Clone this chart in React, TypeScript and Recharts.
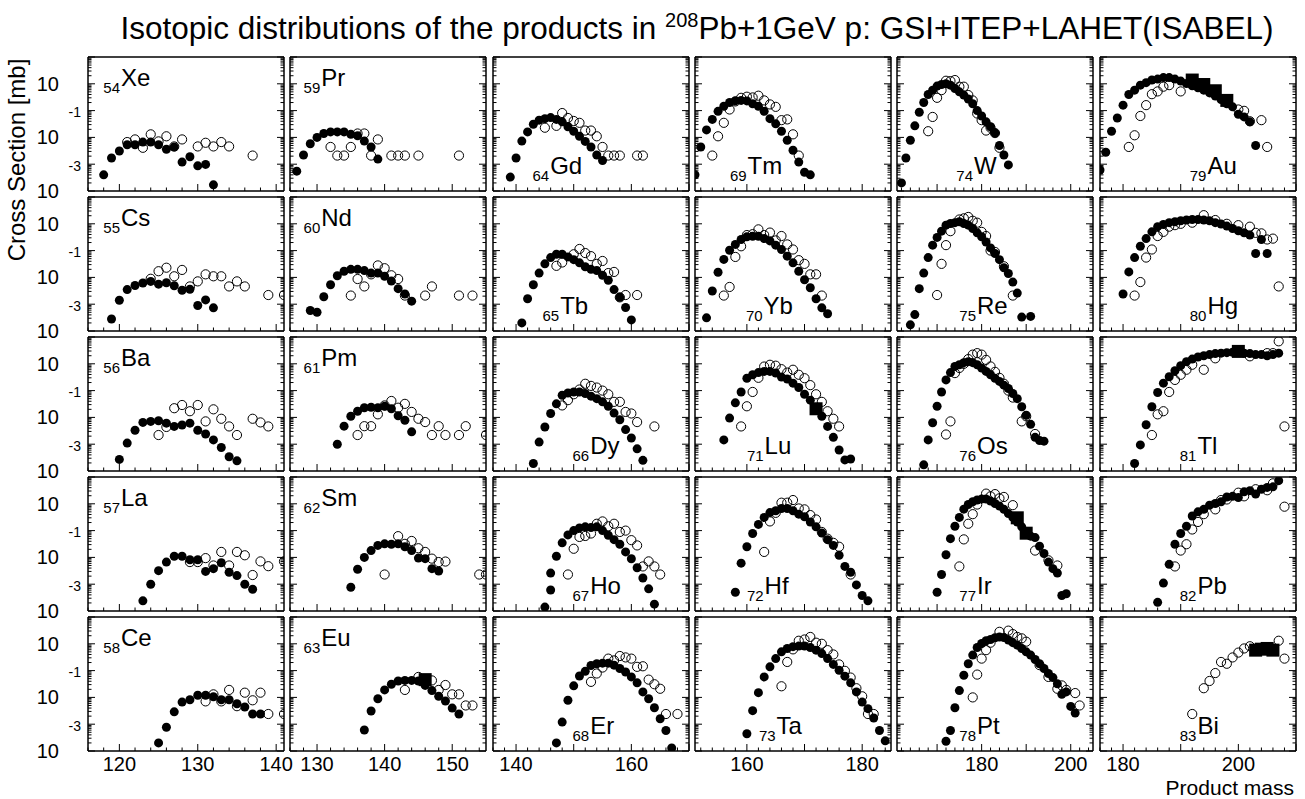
import React from 'react';
import { ScatterChart, Scatter, XAxis, YAxis } from 'recharts';

type Pt = [number, number];

// [mass, cross section mb]; filled = GSI, open = LAHET, squares = ITEP
const xeFilled: Pt[] = [[118,0.004],[119,0.017],[120,0.031],[121,0.053],[122,0.053],[123,0.067],[124,0.067],[125,0.053],[126,0.036],[127,0.044],[128,0.012],[129,0.019],[130,0.0087],[131,0.0098],[132,0.0017]];
const xeOpen: Pt[] = [[121,0.067],[122,0.084],[123,0.041],[124,0.13],[125,0.071],[126,0.11],[127,0.046],[128,0.084],[130,0.046],[131,0.063],[132,0.046],[133,0.067],[134,0.046],[137,0.021]];
const csFilled: Pt[] = [[119,0.0028],[120,0.014],[121,0.035],[122,0.05],[123,0.062],[124,0.071],[125,0.056],[126,0.063],[127,0.049],[128,0.033],[129,0.036],[130,0.0089],[131,0.0145],[132,0.0073]];
const csOpen: Pt[] = [[124,0.089],[125,0.17],[126,0.23],[127,0.11],[128,0.19],[129,0.046],[130,0.071],[131,0.13],[132,0.11],[133,0.11],[134,0.046],[135,0.071],[136,0.046],[139,0.022],[141,0.022]];
const baFilled: Pt[] = [[120,0.0027],[121,0.011],[122,0.033],[123,0.065],[124,0.071],[125,0.075],[126,0.061],[127,0.046],[128,0.052],[129,0.061],[130,0.033],[131,0.024],[132,0.0145],[133,0.0075],[134,0.0034],[135,0.0024]];
const baOpen: Pt[] = [[125,0.022],[126,0.044],[127,0.22],[128,0.29],[129,0.17],[130,0.29],[131,0.071],[132,0.2],[133,0.089],[134,0.046],[135,0.022],[137,0.089],[138,0.065],[139,0.046]];
const laFilled: Pt[] = [[123,0.0024],[124,0.01],[125,0.032],[126,0.067],[127,0.11],[128,0.11],[129,0.082],[130,0.082],[131,0.03],[132,0.038],[133,0.063],[134,0.028],[135,0.021],[136,0.01],[137,0.0065]];
const laOpen: Pt[] = [[129,0.067],[130,0.067],[131,0.094],[132,0.05],[133,0.16],[134,0.05],[135,0.16],[136,0.12],[137,0.022],[138,0.071],[139,0.047],[141,0.071]];
const ceFilled: Pt[] = [[125,0.002],[126,0.0077],[127,0.029],[128,0.067],[129,0.082],[130,0.12],[131,0.12],[132,0.106],[133,0.082],[134,0.082],[135,0.058],[136,0.044],[137,0.024],[138,0.024]];
const ceOpen: Pt[] = [[131,0.071],[132,0.13],[133,0.071],[134,0.19],[135,0.047],[136,0.15],[137,0.078],[138,0.15],[139,0.024],[141,0.024]];

const prFilled: Pt[] = [[127,0.0055],[128,0.022],[129,0.058],[130,0.1],[131,0.14],[132,0.16],[133,0.16],[134,0.16],[135,0.13],[136,0.115],[137,0.073],[138,0.044],[139,0.0155]];
const prOpen: Pt[] = [[132,0.044],[133,0.021],[134,0.021],[135,0.044],[136,0.14],[137,0.14],[138,0.021],[139,0.084],[141,0.021],[142,0.021],[143,0.021],[145,0.021],[151,0.021]];
const ndFilled: Pt[] = [[129,0.0058],[130,0.005],[131,0.019],[132,0.053],[133,0.115],[134,0.17],[135,0.2],[136,0.2],[137,0.18],[138,0.145],[139,0.145],[140,0.11],[141,0.073],[142,0.038],[143,0.024],[144,0.013]];
const ndOpen: Pt[] = [[135,0.021],[136,0.087],[137,0.046],[138,0.13],[139,0.28],[140,0.22],[141,0.12],[142,0.087],[143,0.021],[146,0.021],[147,0.046],[151,0.021],[153,0.021]];
const pmFilled: Pt[] = [[133,0.01],[134,0.047],[135,0.11],[136,0.17],[137,0.23],[138,0.24],[139,0.23],[140,0.26],[141,0.21],[142,0.115],[143,0.078],[144,0.029]];
const pmOpen: Pt[] = [[136,0.022],[137,0.047],[138,0.047],[139,0.13],[140,0.28],[141,0.41],[142,0.23],[143,0.32],[144,0.16],[145,0.089],[146,0.067],[147,0.022],[148,0.047],[149,0.022],[151,0.022],[152,0.047],[155,0.022]];
const smFilled: Pt[] = [[135,0.0077],[136,0.036],[137,0.1],[138,0.18],[139,0.28],[140,0.32],[141,0.31],[142,0.32],[143,0.25],[144,0.18],[145,0.094],[146,0.09],[147,0.038],[148,0.031]];
const smOpen: Pt[] = [[140,0.023],[142,0.62],[143,0.32],[144,0.41],[145,0.22],[146,0.16],[147,0.09],[148,0.067],[149,0.07],[154,0.023],[155,0.023]];
const euFilled: Pt[] = [[137,0.0061],[138,0.031],[139,0.089],[140,0.19],[141,0.31],[142,0.41],[143,0.43],[144,0.43],[145,0.41],[146,0.28],[147,0.18],[148,0.11],[149,0.073],[150,0.04],[151,0.024]];
const euOpen: Pt[] = [[143,0.19],[145,0.58],[147,0.43],[148,0.19],[149,0.29],[150,0.13],[151,0.13],[152,0.05],[153,0.05]];
const euSquare: Pt[] = [[146,0.46]];

const gdFilled: Pt[] = [[139,0.0033],[140,0.017],[141,0.073],[142,0.16],[143,0.31],[144,0.44],[145,0.5],[146,0.55],[147,0.47],[148,0.38],[149,0.25],[150,0.17],[151,0.11],[152,0.071],[153,0.044],[154,0.022],[155,0.0138]];
const gdOpen: Pt[] = [[145,0.23],[147,0.27],[148,0.81],[149,0.53],[150,0.41],[151,0.35],[152,0.18],[153,0.18],[154,0.11],[155,0.044],[156,0.021],[157,0.021],[158,0.021],[161,0.021],[162,0.021]];
const tbFilled: Pt[] = [[141,0.002],[142,0.016],[143,0.053],[144,0.145],[145,0.32],[146,0.55],[147,0.73],[148,0.73],[149,0.58],[150,0.46],[151,0.35],[152,0.25],[153,0.2],[154,0.18],[155,0.12],[156,0.078],[157,0.035],[158,0.018],[159,0.0075],[160,0.0026]];
const tbOpen: Pt[] = [[147,0.27],[148,0.36],[150,0.73],[151,1.15],[152,0.81],[153,0.62],[154,0.32],[155,0.41],[156,0.145],[157,0.16],[158,0.018],[159,0.022],[161,0.022]];
const dyFilled: Pt[] = [[143,0.0019],[144,0.012],[145,0.044],[146,0.14],[147,0.32],[148,0.67],[149,0.81],[150,0.89],[151,0.89],[152,0.78],[153,0.62],[154,0.5],[155,0.38],[156,0.26],[157,0.145],[158,0.082],[159,0.035],[160,0.017],[161,0.0067],[162,0.0025]];
const dyOpen: Pt[] = [[148,0.28],[149,0.44],[150,0.73],[151,1.1],[152,1.8],[153,1.5],[154,1.3],[155,1.0],[156,0.73],[157,0.38],[158,0.38],[159,0.16],[160,0.14],[161,0.067],[164,0.046]];
const hoFilled: Pt[] = [[145,0.0014],[146,0.0061],[146,0.026],[147,0.11],[148,0.35],[149,0.69],[150,1.0],[151,1.26],[152,1.38],[153,1.3],[154,1.38],[155,1.0],[156,0.67],[157,0.46],[158,0.31],[159,0.16],[160,0.089],[161,0.041],[162,0.017],[163,0.0067],[164,0.0018]];
const hoOpen: Pt[] = [[149,0.023],[150,0.21],[151,0.58],[152,0.63],[153,0.78],[154,1.8],[155,2.2],[156,1.45],[157,1.8],[158,0.89],[159,1.0],[160,0.44],[161,0.28],[162,0.046],[163,0.071],[164,0.046],[165,0.023]];
const erFilled: Pt[] = [[147,0.002],[148,0.012],[149,0.078],[150,0.27],[151,0.63],[152,0.94],[153,1.55],[154,1.8],[155,1.9],[156,1.9],[157,1.6],[158,1.2],[159,0.89],[160,0.58],[161,0.35],[162,0.16],[163,0.089],[164,0.041],[165,0.016],[166,0.0058],[167,0.0013]];
const erOpen: Pt[] = [[153,0.38],[154,0.78],[155,1.3],[156,2.8],[157,2.4],[158,3.5],[159,3.1],[160,2.8],[161,1.38],[162,1.45],[163,0.46],[164,0.31],[165,0.21],[166,0.024],[168,0.024]];

const tmFilled: Pt[] = [[151,0.004],[152,0.044],[153,0.19],[154,0.47],[155,0.94],[156,1.45],[157,2.0],[158,2.3],[159,2.4],[160,2.3],[161,1.8],[162,1.45],[163,0.94],[164,0.5],[165,0.32],[166,0.17],[167,0.078],[168,0.033],[169,0.012],[170,0.005],[171,0.004]];
const tmOpen: Pt[] = [[154,0.021],[155,0.11],[156,0.35],[157,1.1],[158,2.2],[159,3.0],[160,3.3],[161,3.1],[162,3.6],[163,2.4],[164,1.7],[165,1.38],[166,0.44],[167,0.47],[168,0.13],[169,0.021]];
const ybFilled: Pt[] = [[153,0.0031],[154,0.031],[155,0.155],[156,0.47],[157,1.03],[158,1.7],[159,2.6],[160,3.3],[161,3.4],[162,3.4],[163,2.8],[164,2.3],[165,1.6],[166,1.1],[167,0.62],[168,0.35],[169,0.17],[170,0.082],[171,0.041],[172,0.016],[173,0.0073],[174,0.0044]];
const ybOpen: Pt[] = [[156,0.021],[157,0.044],[158,0.58],[159,1.45],[160,3.8],[161,4.1],[162,6.2],[163,3.8],[164,4.7],[165,2.4],[166,3.5],[167,1.7],[168,1.1],[169,0.44],[170,0.32],[171,0.13],[172,0.13],[173,0.021]];
const luFilled: Pt[] = [[156,0.0145],[157,0.094],[158,0.35],[159,0.89],[160,2.9],[161,3.9],[162,4.7],[163,5.2],[164,5.2],[165,4.5],[166,3.2],[167,2.7],[168,1.9],[169,1.3],[170,0.73],[171,0.44],[172,0.21],[173,0.11],[174,0.046],[175,0.018],[176,0.0061],[177,0.0026],[178,0.0028]];
const luOpen: Pt[] = [[159,0.046],[160,0.26],[161,0.89],[162,3.0],[163,7.9],[164,9.2],[165,8.5],[166,6.3],[167,4.7],[168,6],[169,3.9],[170,2.9],[171,1.6],[172,0.73],[173,0.38],[174,0.17],[175,0.089],[176,0.046]];
const luSquare: Pt[] = [[172,0.21]];
const hfFilled: Pt[] = [[158,0.005],[159,0.061],[160,0.25],[161,0.78],[162,1.7],[163,3.1],[164,4.7],[165,5.5],[166,6.7],[167,6.7],[168,5.5],[169,4.1],[170,3.3],[171,2.1],[172,1.38],[173,0.81],[174,0.46],[175,0.28],[176,0.12],[177,0.046],[178,0.028],[179,0.0094],[180,0.0038],[181,0.0024]];
const hfOpen: Pt[] = [[163,0.16],[164,2.2],[165,4.6],[166,11],[167,11],[168,13.8],[169,6.7],[170,6.2],[171,3.8],[172,2.6],[173,0.89],[174,0.5],[175,0.35],[176,0.25],[178,0.023]];
const taFilled: Pt[] = [[160,0.0044],[161,0.032],[162,0.15],[163,0.58],[164,1.38],[165,2.8],[166,5.0],[167,6.7],[168,7.8],[169,8.2],[170,8.2],[171,7.3],[172,5.8],[173,4.3],[174,2.8],[175,1.7],[176,1.03],[177,0.62],[178,0.35],[179,0.16],[180,0.067],[181,0.038],[182,0.017],[183,0.0058],[184,0.0024]];
const taOpen: Pt[] = [[166,0.26],[167,2.1],[168,6.2],[169,13],[170,14.5],[171,18],[172,11],[173,10],[174,5.8],[175,4],[176,1.7],[177,0.98],[178,0.55],[179,0.22],[180,0.11],[181,0.024],[182,0.024]];

const wFilled: Pt[] = [[162,0.002],[163,0.017],[164,0.078],[165,0.27],[166,0.87],[167,2.0],[168,4.0],[169,5.8],[170,8.2],[171,9.4],[172,10],[173,8.9],[174,6.7],[175,5],[176,3.8],[177,2.7],[178,1.8],[179,1.0],[180,0.63],[181,0.38],[182,0.25],[183,0.145],[184,0.05],[185,0.022],[186,0.0094]];
const wOpen: Pt[] = [[168,0.17],[169,0.58],[170,3.0],[171,5.8],[172,13],[173,12.6],[174,13.8],[175,7.8],[176,7.8],[177,3.8],[178,2.4],[179,0.78],[180,0.44],[181,0.18],[182,0.23],[183,0.145],[184,0.041]];
const reFilled: Pt[] = [[164,0.0017],[165,0.0041],[166,0.038],[167,0.145],[168,0.55],[169,1.6],[170,3.1],[171,5.3],[172,8.9],[173,10.3],[174,11],[175,11.9],[176,10.3],[177,8.9],[178,6.7],[179,4.6],[180,3.3],[181,2.1],[182,1.26],[183,0.78],[184,0.46],[185,0.23],[186,0.14],[187,0.067],[188,0.026],[189,0.0033],[191,0.0035]];
const reOpen: Pt[] = [[170,0.022],[171,0.32],[172,1.6],[173,5.3],[175,14.5],[176,16],[177,18],[178,13],[179,11],[180,5],[181,3.5],[182,1.0],[183,0.89],[185,0.26],[187,0.021]];
const osFilled: Pt[] = [[167,0.0017],[168,0.0145],[169,0.063],[170,0.26],[171,0.89],[172,2.5],[173,4.7],[174,7.9],[175,9.2],[176,11],[177,12],[178,11],[179,9.2],[180,6.9],[181,5.2],[182,3.9],[183,2.9],[184,2.2],[185,1.6],[186,1.2],[187,0.78],[188,0.5],[189,0.25],[190,0.12],[191,0.055],[192,0.018],[193,0.0138],[194,0.013]];
const osOpen: Pt[] = [[172,0.023],[173,0.071],[174,4.5],[175,7],[176,10],[177,15],[178,22],[179,25],[180,22],[181,14],[182,8],[183,5],[184,3],[185,1.8],[186,1.0],[187,0.55],[189,0.071],[190,0.11],[192,0.024]];
const irFilled: Pt[] = [[170,0.005],[171,0.023],[172,0.126],[173,0.5],[174,1.45],[175,3.1],[176,6.3],[177,9.4],[178,11.9],[179,13.8],[180,15],[181,15],[182,12.6],[183,10.3],[184,8.2],[185,6.2],[186,4.3],[187,3.1],[188,2.1],[189,1.38],[190,0.89],[191,0.62],[192,0.55],[193,0.26],[194,0.14],[195,0.067],[196,0.038],[197,0.026],[198,0.0038],[199,0.0044]];
const irOpen: Pt[] = [[175,0.046],[176,0.47],[177,1.8],[178,4.1],[179,9.4],[181,24],[182,19],[183,23],[184,16],[185,18],[187,8.9],[192,0.18],[195,0.078],[197,0.05]];
const irSquare: Pt[] = [[188,3.0],[190,0.8]];
const ptFilled: Pt[] = [[172,0.0023],[173,0.0058],[174,0.041],[175,0.18],[176,0.67],[177,1.8],[178,3.8],[179,7.3],[180,10.3],[181,13],[182,14.5],[183,16.8],[184,18],[185,17],[186,13.8],[187,11],[188,8.9],[189,6.7],[190,5],[191,3.8],[192,2.6],[193,1.8],[194,1.2],[195,0.78],[196,0.55],[197,0.32],[198,0.13],[199,0.16],[200,0.046],[201,0.026]];
const ptOpen: Pt[] = [[178,0.1],[179,0.71],[180,2.8],[181,5.8],[182,11],[184,28],[186,31],[187,23],[188,18],[189,16],[190,12],[193,1.6],[195,0.58],[197,0.21],[198,0.28],[199,0.19],[201,0.145],[202,0.05]];

const auFilled: Pt[] = [[176,0.0061],[177,0.028],[178,0.17],[179,0.53],[180,1.6],[181,4],[182,5.8],[183,8.9],[184,11],[185,13.8],[186,15],[187,17],[188,17],[189,15],[190,12.6],[191,10.3],[192,8.4],[193,7.1],[194,5.8],[195,4.6],[196,3.5],[197,2.6],[198,1.8],[199,1.38],[200,0.73],[201,0.58],[202,0.38],[203,0.05]];
const auOpen: Pt[] = [[181,0.044],[182,0.12],[183,0.63],[184,1.6],[185,4.1],[186,5.2],[187,7.8],[188,8.9],[190,5.2],[200,1.1],[201,0.98],[202,0.4],[204,0.44],[205,0.044]];
const auSquare: Pt[] = [[192,13.8],[194,9.4],[196,5.5],[198,2.4]];
const hgFilled: Pt[] = [[180,0.024],[181,0.16],[182,0.55],[183,1.45],[184,2.8],[185,5],[186,7.8],[187,9.4],[188,11],[189,11.9],[190,13],[191,13.8],[192,14.5],[193,14.5],[194,13.8],[195,13],[196,11],[197,9.8],[198,8.2],[199,6.7],[200,5.5],[201,4.6],[202,3.8],[203,0.78],[204,2.6],[205,0.78]];
const hgOpen: Pt[] = [[182,0.021],[183,0.067],[184,0.55],[185,1.1],[186,3.5],[187,5],[188,7.8],[189,8.9],[190,10],[192,11],[194,21],[196,13.8],[198,10],[200,8.9],[202,7.8],[203,4.6],[204,4.4],[205,2.6],[206,2.8],[207,0.046]];
const tlFilled: Pt[] = [[182,0.0019],[183,0.0094],[184,0.053],[185,0.25],[186,0.85],[187,1.9],[188,3.3],[189,5.5],[190,8.5],[191,12],[192,15],[193,18],[194,20],[195,22],[196,24],[197,25],[198,26],[199,27],[200,27],[201,25],[202,24],[203,22],[204,22],[205,20],[206,22],[207,25]];
const tlOpen: Pt[] = [[185,0.022],[186,0.13],[187,0.17],[188,0.89],[189,2.5],[190,3.9],[191,6],[192,9.2],[194,6],[196,16],[202,19],[205,25],[206,25],[207,69],[208,0.046]];
const tlSquare: Pt[] = [[200,29]];
const pbFilled: Pt[] = [[186,0.0021],[187,0.011],[188,0.055],[189,0.31],[190,0.78],[191,1.45],[192,3.5],[193,5],[194,6.2],[195,8.9],[196,10.3],[197,11.9],[198,18],[199,19],[200,17],[201,28],[202,31],[203,23],[204,35],[205,41],[206,43],[207,73]];
const pbOpen: Pt[] = [[189,0.046],[190,0.18],[191,0.31],[192,1.1],[193,2.1],[194,4.1],[196,6.2],[197,13.8],[198,14.5],[200,26],[201,19],[203,35],[205,32],[206,58],[208,7.8]];
const biOpen: Pt[] = [[192,0.024],[194,0.22],[195,0.41],[196,0.81],[197,2.1],[198,1.8],[199,3.1],[200,4.7],[201,6.7],[202,8.1],[207,13],[208,2.8]];
const biSquare: Pt[] = [[203,5.8],[204,6.3],[205,6.7],[206,5.8]];

const colDomains: [number, number][] = [[116, 141], [126, 155], [136, 170], [151, 185], [161, 205], [176, 210]];
const colLabels = [[120, 130, 140], [130, 140, 150], [140, 160], [160, 180], [180, 200], [180, 200]];
const decades = [0.001, 0.01, 0.1, 1, 10, 100];
const yLabelExp: Record<number, string> = { 1: '', [-1]: '-1', [-3]: '-3' };

const panels = [
  { z: 54, sym: 'Xe', f: xeFilled, o: xeOpen, s: [] as Pt[], pos: 'top', dx: 15.6 },
  { z: 55, sym: 'Cs', f: csFilled, o: csOpen, s: [], pos: 'top', dx: 15.6 },
  { z: 56, sym: 'Ba', f: baFilled, o: baOpen, s: [], pos: 'top', dx: 15.6 },
  { z: 57, sym: 'La', f: laFilled, o: laOpen, s: [], pos: 'top', dx: 15.6 },
  { z: 58, sym: 'Ce', f: ceFilled, o: ceOpen, s: [], pos: 'top', dx: 15.6 },
  { z: 59, sym: 'Pr', f: prFilled, o: prOpen, s: [], pos: 'top', dx: 13.5 },
  { z: 60, sym: 'Nd', f: ndFilled, o: ndOpen, s: [], pos: 'top', dx: 13.5 },
  { z: 61, sym: 'Pm', f: pmFilled, o: pmOpen, s: [], pos: 'top', dx: 13.5 },
  { z: 62, sym: 'Sm', f: smFilled, o: smOpen, s: [], pos: 'top', dx: 13.5 },
  { z: 63, sym: 'Eu', f: euFilled, o: euOpen, s: euSquare, pos: 'top', dx: 13.5 },
  { z: 64, sym: 'Gd', f: gdFilled, o: gdOpen, s: [], pos: 'bot', dx: 40 },
  { z: 65, sym: 'Tb', f: tbFilled, o: tbOpen, s: [], pos: 'bot', dx: 50 },
  { z: 66, sym: 'Dy', f: dyFilled, o: dyOpen, s: [], pos: 'bot', dx: 80 },
  { z: 67, sym: 'Ho', f: hoFilled, o: hoOpen, s: [], pos: 'bot', dx: 80 },
  { z: 68, sym: 'Er', f: erFilled, o: erOpen, s: [], pos: 'bot', dx: 80 },
  { z: 69, sym: 'Tm', f: tmFilled, o: tmOpen, s: [], pos: 'bot', dx: 35 },
  { z: 70, sym: 'Yb', f: ybFilled, o: ybOpen, s: [], pos: 'bot', dx: 51 },
  { z: 71, sym: 'Lu', f: luFilled, o: luOpen, s: luSquare, pos: 'bot', dx: 52 },
  { z: 72, sym: 'Hf', f: hfFilled, o: hfOpen, s: [], pos: 'bot', dx: 52 },
  { z: 73, sym: 'Ta', f: taFilled, o: taOpen, s: [], pos: 'bot', dx: 64 },
  { z: 74, sym: 'W', f: wFilled, o: wOpen, s: [], pos: 'bot', dx: 59 },
  { z: 75, sym: 'Re', f: reFilled, o: reOpen, s: [], pos: 'bot', dx: 62 },
  { z: 76, sym: 'Os', f: osFilled, o: osOpen, s: [], pos: 'bot', dx: 62 },
  { z: 77, sym: 'Ir', f: irFilled, o: irOpen, s: irSquare, pos: 'bot', dx: 62 },
  { z: 78, sym: 'Pt', f: ptFilled, o: ptOpen, s: [], pos: 'bot', dx: 62 },
  { z: 79, sym: 'Au', f: auFilled, o: auOpen, s: auSquare, pos: 'bot', dx: 90 },
  { z: 80, sym: 'Hg', f: hgFilled, o: hgOpen, s: [], pos: 'bot', dx: 90 },
  { z: 81, sym: 'Tl', f: tlFilled, o: tlOpen, s: tlSquare, pos: 'bot', dx: 80 },
  { z: 82, sym: 'Pb', f: pbFilled, o: pbOpen, s: [], pos: 'bot', dx: 80 },
  { z: 83, sym: 'Bi', f: [] as Pt[], o: biOpen, s: biSquare, pos: 'bot', dx: 80 },
];

const PX0 = 87.7, PDX = 202.4, PY0 = 57, PDY = 140, PW = 196, PH = 134;
const AX = 1; // thickness reserved for each axis, so recharts draws it
const FONT = '"Liberation Sans", Arial, Helvetica, sans-serif';

const yTicks: number[] = [];
decades.forEach((d) => {
  for (let m = 1; m <= 9; m++) if (d * m <= 100.0001) yTicks.push(d * m);
});

const toXY = (pts: Pt[]) => pts.map(([x, y]) => ({ x, y }));

const dotShape = (p: any) => <circle cx={p.cx} cy={p.cy} r={4.5} fill="#000" />;
const ringShape = (p: any) => <circle cx={p.cx} cy={p.cy} r={4.6} fill="none" stroke="#000" strokeWidth={1} />;
const squareShape = (p: any) => <rect x={p.cx - 6.5} y={p.cy - 6.5} width={13} height={13} fill="#000" />;

const isDecade = (v: number) => {
  const l = Math.log10(v);
  return Math.abs(l - Math.round(l)) < 1e-6;
};

function Panel({ idx }: { idx: number }) {
  const p = panels[idx];
  const col = Math.floor(idx / 5);
  const row = idx % 5;
  const [lo, hi] = colDomains[col];
  const xTicks: number[] = [];
  for (let v = Math.ceil(lo / 2) * 2; v <= hi; v += 2) xTicks.push(v);
  const showX = row === 4;
  const showY = col === 0;
  const frame = { stroke: '#000', strokeWidth: 1.5 };

  const bottomTick = (t: any) => {
    const v = t.payload.value;
    const len = v % 10 === 0 ? 7 : 3.5;
    return (
      <g>
        <line x1={t.x} x2={t.x} y1={t.y} y2={t.y - len} stroke="#000" />
        {showX && colLabels[col].includes(v) && (
          <text x={t.x} y={t.y + 20} textAnchor="middle" fontSize={20} fill="#000">{v}</text>
        )}
      </g>
    );
  };
  const topTick = (t: any) => {
    const len = t.payload.value % 10 === 0 ? 7 : 3.5;
    return <line x1={t.x} x2={t.x} y1={t.y} y2={t.y + len} stroke="#000" />;
  };
  const leftTick = (t: any) => {
    const v = t.payload.value;
    const major = isDecade(v);
    const e = Math.round(Math.log10(v));
    const lab = showY && major && yLabelExp[e] !== undefined;
    return (
      <g>
        <line x1={t.x} x2={t.x + (major ? 7 : 3.5)} y1={t.y} y2={t.y} stroke="#000" />
        {lab && <text x={t.x - 29} y={t.y + 7} textAnchor="end" fontSize={20} fill="#000">10</text>}
        {lab && yLabelExp[e] && <text x={t.x - 19.5} y={t.y - 20.5} fontSize={14} fill="#000">{yLabelExp[e]}</text>}
      </g>
    );
  };
  const rightTick = (t: any) => {
    const len = isDecade(t.payload.value) ? 7 : 3.5;
    return <line x1={t.x} x2={t.x - len} y1={t.y} y2={t.y} stroke="#000" />;
  };

  return (
    <div style={{ position: 'absolute', left: PX0 + col * PDX - AX, top: PY0 + row * PDY - AX }}>
      <ScatterChart width={PW + 2 * AX} height={PH + 2 * AX} margin={{ top: 0, right: 0, bottom: 0, left: 0 }}>
        <XAxis xAxisId="b" dataKey="x" type="number" domain={[lo, hi]} ticks={xTicks} interval={0} height={AX}
          tickSize={0} tickMargin={0} tickLine={false} axisLine={frame} tick={bottomTick} allowDataOverflow />
        <XAxis xAxisId="t" orientation="top" type="number" domain={[lo, hi]} ticks={xTicks} interval={0} height={AX}
          tickSize={0} tickMargin={0} tickLine={false} axisLine={frame} tick={topTick} allowDataOverflow />
        <YAxis yAxisId="l" dataKey="y" type="number" scale="log" domain={[0.001, 100]} ticks={yTicks} interval={0} width={AX}
          tickSize={0} tickMargin={0} tickLine={false} axisLine={frame} tick={leftTick} allowDataOverflow />
        <YAxis yAxisId="r" orientation="right" type="number" scale="log" domain={[0.001, 100]} ticks={yTicks} interval={0} width={AX}
          tickSize={0} tickMargin={0} tickLine={false} axisLine={frame} tick={rightTick} allowDataOverflow />
        <Scatter xAxisId="b" yAxisId="l" data={toXY(p.f)} shape={dotShape} isAnimationActive={false} />
        <Scatter xAxisId="b" yAxisId="l" data={toXY(p.o)} shape={ringShape} isAnimationActive={false} />
        <Scatter xAxisId="b" yAxisId="l" data={toXY(p.s)} shape={squareShape} isAnimationActive={false} />
      </ScatterChart>
    </div>
  );
}

export default function App() {
  return (
    <div style={{ position: 'absolute', left: 0, top: 0, width: 1305, height: 799, background: '#fff', fontFamily: FONT, overflow: 'hidden' }}>
      <style>{'.recharts-surface{overflow:visible}'}</style>
      {panels.map((_, i) => <Panel key={i} idx={i} />)}
      <svg width={1305} height={799} style={{ position: 'absolute', left: 0, top: 0, pointerEvents: 'none', overflow: 'visible' }}>
        <text x={697} y={39} textAnchor="middle" fontSize={31.5} fill="#000">
          Isotopic distributions of the products in <tspan fontSize={20} dy={-12}>208</tspan>
          <tspan dy={12}>Pb+1GeV p: GSI+ITEP+LAHET(ISABEL)</tspan>
        </text>
        <text x={25} y={160} textAnchor="middle" fontSize={24} fill="#000" transform="rotate(-90 25 160)">Cross Section [mb]</text>
        <text x={1294} y={794.5} textAnchor="end" fontSize={21} fill="#000">Product mass</text>
        {panels.map((p, i) => {
          const col = Math.floor(i / 5);
          const row = i % 5;
          const left = PX0 + col * PDX + p.dx;
          const top = PY0 + row * PDY;
          const subBase = top + (p.pos === 'top' ? 36 : 124);
          return (
            <text key={p.sym} x={left} y={subBase} fill="#000">
              <tspan fontSize={15}>{p.z}</tspan>
              <tspan fontSize={24} dx={1} dy={-7.5}>{p.sym}</tspan>
            </text>
          );
        })}
      </svg>
    </div>
  );
}
